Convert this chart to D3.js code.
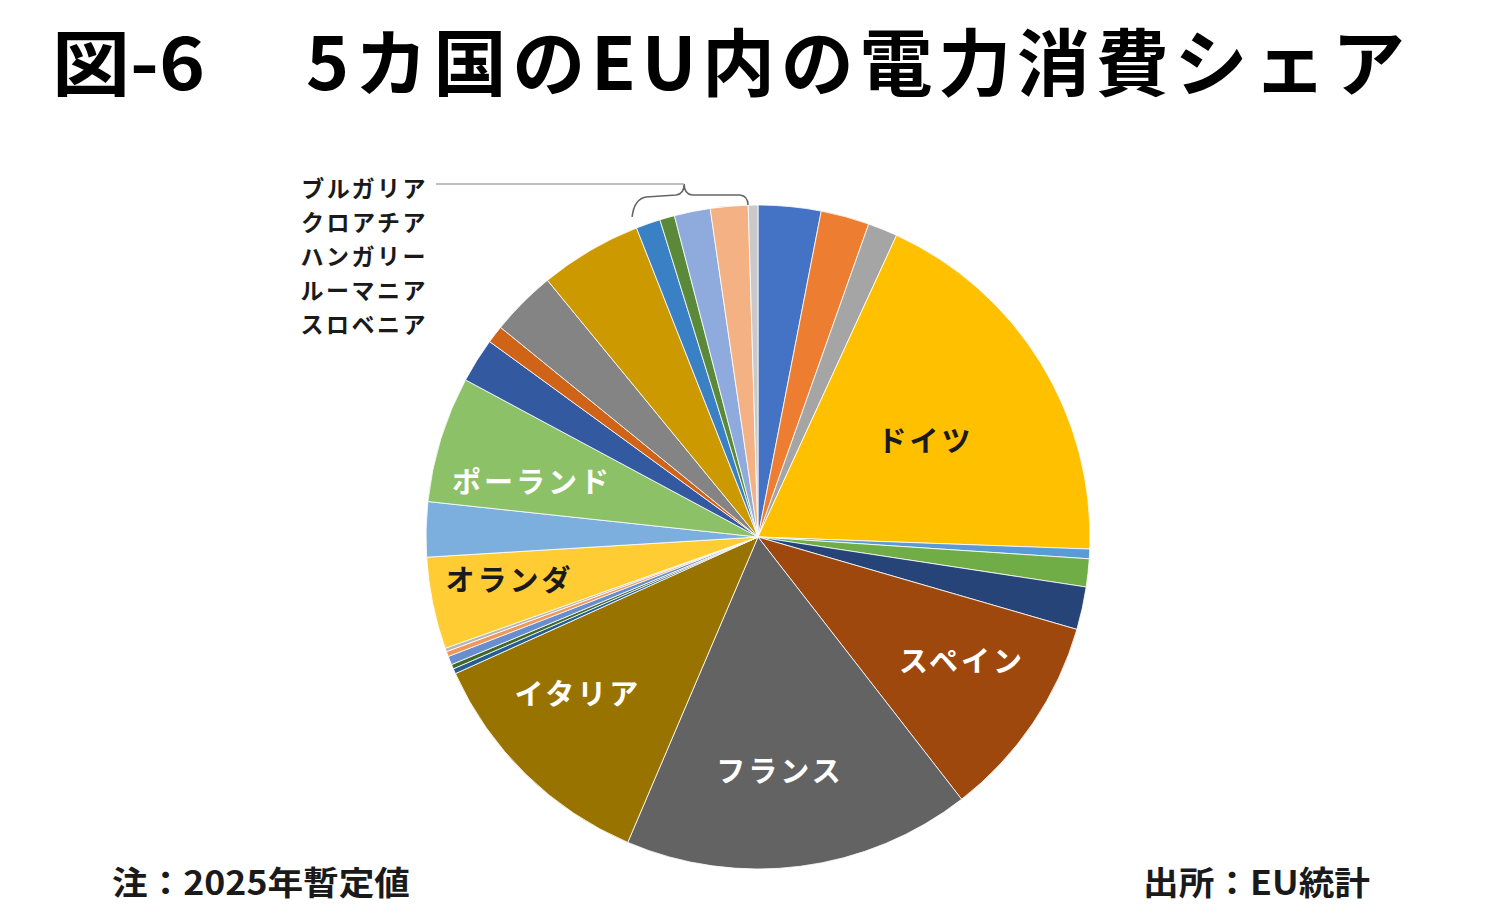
<!DOCTYPE html>
<html>
<head>
<meta charset="utf-8">
<script src="https://cdn.jsdelivr.net/npm/d3@7"></script>
<style>
  body { margin: 0; background: #fff; }
  svg text { font-family: "Noto Sans CJK JP", "Noto Sans", sans-serif; font-weight: 700; }
</style>
</head>
<body>
<div id="chart"></div>
<script>
// EU 27 countries, share of electricity consumption (%)
var countries = ["ベルギー","チェコ","デンマーク","ドイツ","エストニア","アイルランド","ギリシャ",
  "スペイン","フランス","イタリア","キプロス","ラトビア","リトアニア","ルクセンブルク","マルタ",
  "オランダ","オーストリア","ポーランド","ポルトガル","スロバキア","フィンランド","スウェーデン",
  "ブルガリア","クロアチア","ハンガリー","ルーマニア","スロベニア"]
var shares = [3.05, 2.36, 1.44, 18.72, 0.47, 1.36, 2.08,
  10.0, 16.92, 11.83, 0.25, 0.22, 0.42, 0.25, 0.17,
  4.47, 2.67, 6.14, 2.17, 0.86, 3.19, 4.97,
  1.19, 0.72, 1.75, 1.83, 0.47]

// labels drawn inside the pie
var insideLabels = ["ドイツ","スペイン","フランス","イタリア","オランダ","ポーランド"]
// small countries listed at the top left
var smallLabels = ["ブルガリア","クロアチア","ハンガリー","ルーマニア","スロベニア"]

var titleLeft = "図-6"
var titleRight = "5カ国のEU内の電力消費シェア"
var noteText = "注：2025年暫定値"
var sourceText = "出所：EU統計"

// excel style series colours
var colors = ["#4472C4","#ED7D31","#A5A5A5","#FFC000","#5B9BD5","#70AD47","#264478",
  "#9E480E","#636363","#997300","#255E91","#43682B","#698ED0","#F1975A","#B7B7B7",
  "#FFCD33","#7CAFDD","#8CC168","#335AA1","#CF6318","#848484","#CC9A00",
  "#3A80C4","#5A8A39","#8FAADC","#F4B183","#C9C9C9"]

var w = 1500, h = 920
var cx = 758, cy = 537, r = 332

var svg = d3.select("#chart").append("svg")
  .attr("width", w)
  .attr("height", h)

// title
svg.append("text")
  .attr("x", 52).attr("y", 90)
  .attr("font-size", 72)
  .attr("textLength", 153).attr("lengthAdjust", "spacingAndGlyphs")
  .text(titleLeft)
svg.append("text")
  .attr("x", 306).attr("y", 90)
  .attr("font-size", 73)
  .attr("textLength", 1099).attr("lengthAdjust", "spacing")
  .text(titleRight)

var data = countries.map(function(c, i) { return {name: c, value: shares[i], color: colors[i]} })

var pie = d3.pie().sort(null).value(function(d) { return d.value })
var arcs = pie(data)
var arc = d3.arc().innerRadius(0).outerRadius(r)

var g = svg.append("g").attr("transform", "translate(" + cx + "," + cy + ")")

g.selectAll("path")
  .data(arcs)
  .join("path")
  .attr("d", arc)
  .attr("fill", function(d) { return d.data.color })
  .attr("stroke", "#fff")
  .attr("stroke-width", 1)
  .attr("stroke-opacity", 0.8)

// label placement: radius factor and angle nudge (deg), plus text colour
var labelRadius = {"ドイツ": 0.58, "スペイン": 0.72, "フランス": 0.71, "イタリア": 0.72, "オランダ": 0.76, "ポーランド": 0.70}
var labelNudge = {"ドイツ": 2, "スペイン": -2.8, "フランス": 2, "イタリア": 4.5, "オランダ": 1.7, "ポーランド": -3.7}
var darkText = {"ドイツ": true, "オランダ": true}

g.selectAll("text.inside")
  .data(arcs.filter(function(d) { return insideLabels.indexOf(d.data.name) >= 0 }))
  .join("text")
  .attr("class", "inside")
  .attr("transform", function(d) {
    var lr = r * labelRadius[d.data.name]
    var a = (d.startAngle + d.endAngle) / 2 + labelNudge[d.data.name] * Math.PI / 180
    return "translate(" + (lr * Math.sin(a)) + "," + (-lr * Math.cos(a)) + ")"
  })
  .attr("text-anchor", "middle")
  .attr("dy", "0.36em")
  .attr("font-size", 29)
  .attr("letter-spacing", 3)
  .attr("fill", function(d) { return darkText[d.data.name] ? "#1a1a1a" : "#fff" })
  .text(function(d) { return d.data.name })

// small countries list
var listX = 428, listY = 189, listGap = 34
svg.selectAll("text.small")
  .data(smallLabels)
  .join("text")
  .attr("class", "small")
  .attr("x", listX)
  .attr("y", function(d, i) { return listY + i * listGap })
  .attr("dy", "0.36em")
  .attr("text-anchor", "end")
  .attr("font-size", 23)
  .attr("letter-spacing", 2.5)
  .attr("fill", "#1a1a1a")
  .text(function(d) { return d })

// brace over the small slices, ends taken from the pie angles
var smallArcs = arcs.filter(function(d) { return smallLabels.indexOf(d.data.name) >= 0 })
var a0 = d3.min(smallArcs, function(d) { return d.startAngle })
var a1 = d3.max(smallArcs, function(d) { return d.endAngle })
var br = r + 12
var p0 = [cx + br * Math.sin(a0), cy - br * Math.cos(a0)]
var p1 = [cx + br * Math.sin(a1) - 10, cy - br * Math.cos(a1) + 12]
var topY = 195
var peakX = p0[0] + 52, peakY = 184

var bp = d3.path()
bp.moveTo(p0[0], p0[1])
bp.quadraticCurveTo(p0[0] + 2, topY + 4, p0[0] + 14, topY + 2)
bp.lineTo(peakX - 8, topY)
bp.quadraticCurveTo(peakX, topY - 1, peakX, peakY)
bp.quadraticCurveTo(peakX, topY - 1, peakX + 8, topY)
bp.lineTo(p1[0] - 8, topY)
bp.quadraticCurveTo(p1[0], topY + 1, p1[0], p1[1])
svg.append("path")
  .attr("d", bp.toString())
  .attr("fill", "none")
  .attr("stroke", "#666")
  .attr("stroke-width", 1.6)

svg.append("line")
  .attr("x1", listX + 8).attr("y1", peakY)
  .attr("x2", peakX).attr("y2", peakY)
  .attr("stroke", "#aaa")
  .attr("stroke-width", 1.6)

// footer
svg.append("text")
  .attr("x", 112).attr("y", 895)
  .attr("font-size", 33)
  .attr("textLength", 298).attr("lengthAdjust", "spacingAndGlyphs")
  .attr("fill", "#1a1a1a")
  .text(noteText)
svg.append("text")
  .attr("x", 1143).attr("y", 895)
  .attr("font-size", 33)
  .attr("textLength", 227).attr("lengthAdjust", "spacingAndGlyphs")
  .attr("fill", "#1a1a1a")
  .text(sourceText)
</script>
</body>
</html>
